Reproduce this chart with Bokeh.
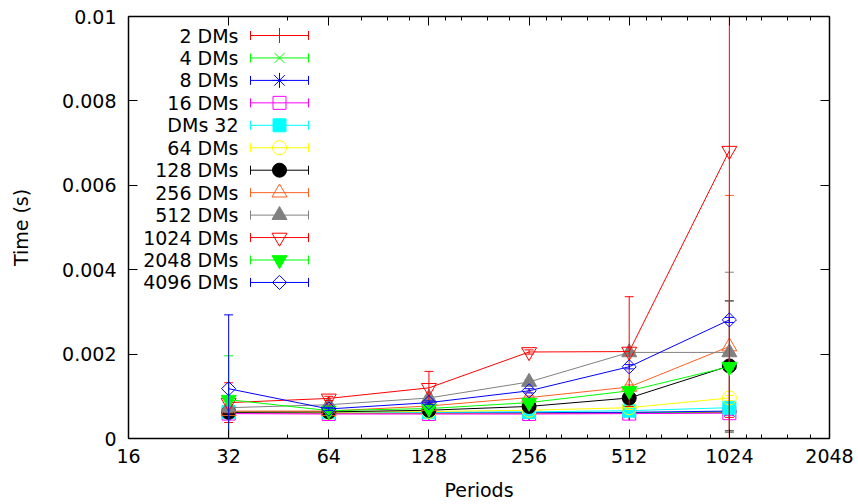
import numpy as np
from bokeh.plotting import figure
from bokeh.models import FixedTicker, LogAxis, LinearAxis, Range1d
from bokeh.core.properties import value
from bokeh.embed import file_html
from bokeh.resources import INLINE

# ---------------- data ----------------
periods = [32, 64, 128, 256, 512, 1024]

xtick_values = [16, 32, 64, 128, 256, 512, 1024, 2048]
xtick_labels = ["16", "32", "64", "128", "256", "512", "1024", "2048"]
ytick_values = [0.0, 0.002, 0.004, 0.006, 0.008, 0.01]
ytick_labels = ["0", "0.002", "0.004", "0.006", "0.008", "0.01"]

names = ["2 DMs", "4 DMs", "8 DMs", "16 DMs", "DMs 32", "64 DMs",
         "128 DMs", "256 DMs", "512 DMs", "1024 DMs", "2048 DMs", "4096 DMs"]

t_2 = [0.00061, 0.00060, 0.00060, 0.00060, 0.00060, 0.00062]
e_2 = [0.00004, 0.00003, 0.00003, 0.00003, 0.00003, 0.00012]
t_4 = [0.00062, 0.00061, 0.00061, 0.00061, 0.00061, 0.00063]
e_4 = [0.00004, 0.00003, 0.00003, 0.00003, 0.00003, 0.00005]
t_8 = [0.00063, 0.00062, 0.00062, 0.00062, 0.00062, 0.00065]
e_8 = [0.00004, 0.00003, 0.00003, 0.00003, 0.00003, 0.00005]
t_16 = [0.00059, 0.00058, 0.00058, 0.00058, 0.00059, 0.00060]
e_16 = [0.00004, 0.00003, 0.00003, 0.00003, 0.00003, 0.00005]
t_32 = [0.00063, 0.00062, 0.00062, 0.00063, 0.00066, 0.00073]
e_32 = [0.00005, 0.00003, 0.00003, 0.00003, 0.00004, 0.00006]
t_64 = [0.00063, 0.00062, 0.00064, 0.00067, 0.00073, 0.00096]
e_64 = [0.00004, 0.00003, 0.00003, 0.00004, 0.00004, 0.00006]
t_128 = [0.00062, 0.00063, 0.00067, 0.00076, 0.00096, 0.00172]
e_128 = [0.00004, 0.00003, 0.00003, 0.00004, 0.00005, 0.00154]
t_256 = [0.00065, 0.00065, 0.00077, 0.00097, 0.00122, 0.00218]
e_256 = [0.00004, 0.00003, 0.00004, 0.00004, 0.00005, 0.00358]
t_512 = [0.00073, 0.00080, 0.00096, 0.00134, 0.00204, 0.00204]
e_512 = [0.00004, 0.00003, 0.00004, 0.00005, 0.00005, 0.00190]
t_1024 = [0.00085, 0.00095, 0.00120, 0.00205, 0.00206, 0.00682]
e_1024 = [0.00047, 0.00005, 0.00039, 0.00005, 0.00130, 0.00850]
t_2048 = [0.00092, 0.00066, 0.00071, 0.00085, 0.00113, 0.00170]
e_2048 = [0.00104, 0.00004, 0.00004, 0.00005, 0.00005, 0.00006]
t_4096 = [0.00118, 0.00070, 0.00085, 0.00113, 0.00170, 0.00281]
e_4096 = [0.00175, 0.00004, 0.00004, 0.00005, 0.00005, 0.00006]

times = [t_2, t_4, t_8, t_16, t_32, t_64, t_128, t_256, t_512, t_1024, t_2048, t_4096]
errs = [e_2, e_4, e_8, e_16, e_32, e_64, e_128, e_256, e_512, e_1024, e_2048, e_4096]

colors = ["#ff0000", "#00ff00", "#0000ff", "#ff00ff", "#00ffff", "#ffff00",
          "#000000", "#ff6020", "#808080", "#ff0000", "#00ff00", "#0000ff"]
# (marker, size, angle, filled)
styles = [("cross", 15, 0.0, False), ("x", 14, 0.0, False), ("asterisk", 15, 0.0, False),
          ("square", 13, 0.0, False), ("square", 13, 0.0, True), ("circle", 14, 0.0, False),
          ("circle", 14, 0.0, True), ("triangle", 15, 0.0, False), ("triangle", 15, 0.0, True),
          ("inverted_triangle", 15, 0.0, False), ("inverted_triangle", 15, 0.0, True),
          ("square", 10, np.pi / 4, False)]

# ---------------- layout ----------------
W, H = 858, 504
BL, BT = 128, 16
FW, FH = 701, 422
BR = W - BL - FW
BB = H - BT - FH
X0, X1 = 16, 2048
Y0, Y1 = 0.0, 0.01
FONT = "DejaVu Sans"
FS = "19px"


def px2x(px):
    return X0 * (X1 / X0) ** ((px - BL) / FW)


def py2y(py):
    return Y1 - (py - BT) / FH * (Y1 - Y0)


p = figure(width=W, height=H, x_axis_type="log",
           x_range=Range1d(X0, X1), y_range=Range1d(Y0, Y1),
           output_backend="svg", toolbar_location=None,
           min_border_left=BL, min_border_right=BR,
           min_border_top=BT, min_border_bottom=BB)
p.grid.visible = False
p.outline_line_color = None
p.background_fill_color = "white"
p.border_fill_color = "white"

xminor = [48, 80, 96, 112, 144, 160, 192, 224, 288, 320, 384, 448,
          576, 640, 768, 896, 1152, 1280, 1536, 1792]
xticker = FixedTicker(ticks=xtick_values, minor_ticks=xminor)
yticker = FixedTicker(ticks=ytick_values, minor_ticks=[])


def style_axis(ax):
    ax.axis_line_color = "black"
    ax.axis_line_width = 1.5
    ax.major_tick_line_color = "black"
    ax.minor_tick_line_color = "black"
    ax.major_tick_in = 9
    ax.major_tick_out = 0
    ax.minor_tick_in = 4
    ax.minor_tick_out = 0
    ax.major_label_text_font = FONT
    ax.major_label_text_color = "black"
    ax.major_label_text_font_size = FS
    ax.axis_label_text_font = FONT
    ax.axis_label_text_font_size = FS
    ax.axis_label_text_font_style = "normal"
    ax.axis_label_text_color = "black"


xa = p.xaxis[0]
xa.ticker = xticker
xa.major_label_overrides = {v: s for v, s in zip(xtick_values, xtick_labels)}
style_axis(xa)
xa.major_label_standoff = 10
xa.axis_label = "Periods"
xa.axis_label_standoff = 13

ya = p.yaxis[0]
ya.ticker = yticker
ya.major_label_overrides = {v: s for v, s in zip(ytick_values, ytick_labels)}
style_axis(ya)
ya.major_label_standoff = 12
ya.axis_label = "Time (s)"
ya.axis_label_standoff = 27

top = LogAxis(ticker=xticker, major_label_overrides={v: "" for v in xtick_values})
style_axis(top)
top.major_label_text_font_size = "1px"
top.major_label_standoff = 0
p.add_layout(top, "above")
right = LinearAxis(ticker=yticker, major_label_overrides={v: "" for v in ytick_values})
style_axis(right)
right.major_label_text_font_size = "1px"
right.major_label_standoff = 0
p.add_layout(right, "right")

# ---------------- series ----------------
for name, vals, er, c, (mk, sz, ang, filled) in zip(names, times, errs, colors, styles):
    lo = [v - e for v, e in zip(vals, er)]
    hi = [v + e for v, e in zip(vals, er)]
    p.segment(x0=periods, y0=lo, x1=periods, y1=hi, line_color=c, line_width=1)
    p.scatter(x=periods + periods, y=lo + hi, marker="dash", size=9,
              line_color=c, line_width=1)
    p.line(periods, vals, line_color=c, line_width=1)
    p.scatter(x=periods, y=vals, marker=mk, size=sz, angle=ang,
              line_color=c, fill_color=c if filled else None, line_width=1)

# ---------------- legend (gnuplot style) ----------------
for i, (name, c, (mk, sz, ang, filled)) in enumerate(zip(names, colors, styles)):
    yy = py2y(35 + 22.45 * i)
    p.text(x=[px2x(238)], y=[yy], text=[name], text_align="right",
           text_baseline="middle", text_font=value(FONT),
           text_font_size=value(FS), text_color="black")
    p.segment(x0=[px2x(250)], y0=[yy], x1=[px2x(308)], y1=[yy],
              line_color=c, line_width=1)
    p.scatter(x=[px2x(250), px2x(308)], y=[yy, yy], marker="dash", angle=np.pi / 2,
              size=9, line_color=c, line_width=1)
    p.scatter(x=[px2x(279)], y=[yy], marker=mk, size=sz, angle=ang,
              line_color=c, fill_color=c if filled else None, line_width=1)

open("out.html", "w").write(file_html(p, INLINE))
